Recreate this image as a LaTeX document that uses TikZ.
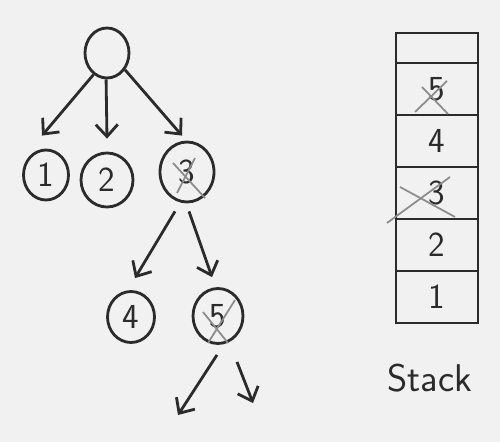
\documentclass[tikz,border=0pt]{standalone}
\usetikzlibrary{shapes.geometric,positioning,arrows.meta}

\definecolor{ink}{HTML}{2B2B2B}
\definecolor{pencil}{HTML}{8C8C8C}
\definecolor{paper}{HTML}{F1F1F1}

\begin{document}
\begin{tikzpicture}[
  x=0.02cm, y=-0.02cm,
  arr/.style={-{Straight Barb[length=2.4mm,width=4.4mm]}, line width=1.6pt, draw=ink},
  vertex/.style={draw=ink, ellipse, line width=1.6pt, inner sep=0pt, text=ink, font=\sffamily\fontsize{20}{24}\selectfont},
  cell/.style={draw=ink, rectangle, line width=1.6pt, minimum width=1.64cm, minimum height=1.04cm, inner sep=0pt, outer sep=0pt, text=ink, font=\sffamily\fontsize{20}{24}\selectfont},
  cross/.style={draw=pencil, line width=1pt},
]

\fill[paper] (0,0) rectangle (500,442);
\useasboundingbox (0,0) rectangle (500,442);

% tree
\node[vertex, minimum width=0.88cm, minimum height=1.0cm] (root) at (107,53) {};

\node[vertex, minimum width=0.9cm,  minimum height=1.0cm]  (n1) at (46,175)  {1};
\node[vertex, minimum width=1.04cm, minimum height=1.08cm] (n2) at (107,180) {2};
\node[vertex, minimum width=1.08cm, minimum height=1.2cm]  (n3) at (187,172) {3};

\node[vertex, minimum width=0.94cm, minimum height=1.02cm] (n4) at (131,317) {4};
\node[vertex, minimum width=1.0cm,  minimum height=1.1cm]  (n5) at (218,316) {5};

\coordinate (e1) at (178,415);
\coordinate (e2) at (253,403);

\draw[arr] (root.238) -- ([shift={(-4,-13)}]n1.north);
\draw[arr] (root.268) -- ([shift={(0,-13)}]n2.north);
\draw[arr] (root.317) -- ([shift={(-5,-5)}]n3.north);

\draw[arr] ([shift={(-12,8)}]n3.south) -- ([shift={(4,-12)}]n4.north);
\draw[arr] ([shift={(2,8)}]n3.south) -- ([shift={(-6,-10)}]n5.north);

\draw[arr] ([shift={(-1,10)}]n5.south) -- (e1);
\draw[arr] ([shift={(19,17)}]n5.south) -- (e2);

% crossed out
\draw[cross] ([shift={(-14,-9)}]n3.center) -- ([shift={(18,26)}]n3.center);
\draw[cross] ([shift={(8,-14)}]n3.center) -- ([shift={(-10,21)}]n3.center);
\draw[cross] ([shift={(-15,-4)}]n5.center) -- ([shift={(10,27)}]n5.center);
\draw[cross] ([shift={(17,-16)}]n5.center) -- ([shift={(-10,27)}]n5.center);

% stack
\node[cell, minimum height=0.6cm] (s0) at (437,48) {};
\node[cell, below=0pt of s0] (s5) {5};
\node[cell, below=0pt of s5] (s4) {4};
\node[cell, below=0pt of s4] (s3) {3};
\node[cell, below=0pt of s3] (s2) {2};
\node[cell, below=0pt of s2] (s1) {1};

\draw[cross] ([shift={(-22,23)}]s5.center) -- ([shift={(10,-8)}]s5.center);
\draw[cross] ([shift={(-15,-2)}]s5.center) -- ([shift={(11,25)}]s5.center);
\draw[cross] ([shift={(-50,30)}]s3.center) -- ([shift={(13,-16)}]s3.center);
\draw[cross] ([shift={(-37,-6)}]s3.center) -- ([shift={(18,24)}]s3.center);

\node[below=0.7cm of s1, xshift=-4pt, text=ink, font=\sffamily\fontsize{22}{26}\selectfont] (lbl) {Stack};

\end{tikzpicture}
\end{document}
